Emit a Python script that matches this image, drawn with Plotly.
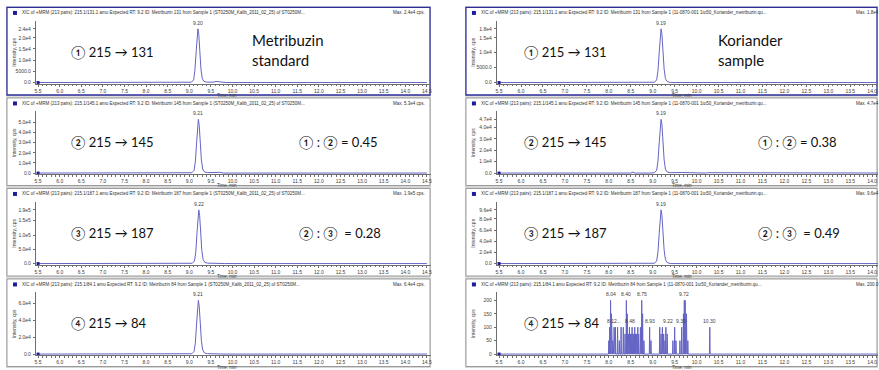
import plotly.graph_objects as go

W, H = 879, 370

# ---- XIC traces, Metribuzin standard (retention time in min, intensity in cps) ----
std_131_t = [5.50, 8.95, 9.05, 9.10, 9.13, 9.16, 9.18, 9.20, 9.22, 9.24, 9.27, 9.30, 9.34, 9.40, 9.55, 9.62, 9.70, 9.78, 9.85, 14.50]
std_131_i = [0, 0, 150, 1200, 5500, 14000, 21000, 24000, 21500, 14500, 6000, 1800, 500, 200, 150, 500, 450, 150, 0, 0]

std_145_t = [5.50, 8.96, 9.06, 9.11, 9.14, 9.17, 9.19, 9.21, 9.23, 9.25, 9.28, 9.31, 9.35, 9.42, 9.55, 9.63, 9.70, 9.80, 14.50]
std_145_i = [0, 0, 300, 2500, 11000, 30000, 46000, 53000, 47000, 31000, 13000, 4000, 1100, 400, 300, 900, 700, 0, 0]

std_187_t = [5.50, 8.97, 9.07, 9.12, 9.15, 9.18, 9.20, 9.22, 9.24, 9.26, 9.29, 9.32, 9.36, 9.43, 9.56, 9.64, 9.72, 9.82, 14.50]
std_187_i = [0, 0, 1000, 9000, 40000, 110000, 165000, 188000, 168000, 112000, 46000, 14000, 4000, 1500, 1000, 2500, 2000, 0, 0]

std_84_t = [5.50, 8.96, 9.06, 9.11, 9.14, 9.17, 9.19, 9.21, 9.23, 9.25, 9.28, 9.31, 9.35, 9.42, 9.55, 9.63, 9.70, 9.80, 14.50]
std_84_i = [0, 0, 400, 3000, 13000, 37000, 56000, 64000, 57000, 38000, 16000, 5000, 1400, 500, 400, 1000, 800, 0, 0]

# ---- XIC traces, Koriander sample ----
kor_131_t = [5.50, 8.94, 9.04, 9.09, 9.12, 9.15, 9.17, 9.19, 9.21, 9.23, 9.26, 9.29, 9.33, 9.40, 14.50]
kor_131_i = [0, 0, 100, 900, 4000, 10500, 16000, 18000, 16200, 10800, 4500, 1300, 350, 0, 0]

kor_145_t = [5.50, 8.50, 8.55, 8.60, 8.94, 9.04, 9.09, 9.12, 9.15, 9.17, 9.19, 9.21, 9.23, 9.26, 9.29, 9.33, 9.40, 9.60, 9.65, 10.20, 10.25, 14.50]
kor_145_i = [0, 0, 800, 0, 0, 300, 2400, 10500, 27500, 42000, 47000, 42500, 28000, 11500, 3300, 900, 300, 0, 500, 0, 300, 0]

kor_187_t = [5.50, 8.94, 9.04, 9.09, 9.12, 9.15, 9.17, 9.19, 9.21, 9.23, 9.26, 9.29, 9.33, 9.40, 14.50]
kor_187_i = [0, 0, 500, 4800, 21000, 56000, 85000, 96000, 86000, 57000, 24000, 7000, 1800, 0, 0]

# 215 -> 84 in the sample: isolated noise spikes (time, cps)
kor_84_spike_t = [8.00, 8.02, 8.04, 8.06, 8.09, 8.12, 8.15, 8.20, 8.24, 8.28, 8.33, 8.37, 8.40, 8.42,
                  8.45, 8.47, 8.49, 8.51, 8.53, 8.55, 8.57, 8.59, 8.61, 8.63, 8.66, 8.68, 8.72, 8.75,
                  8.77, 8.80, 8.93, 8.96, 9.16, 9.19, 9.22, 9.25, 9.28, 9.30, 9.33, 9.46, 9.50, 9.53,
                  9.62, 9.66, 9.70, 9.72, 9.74, 9.77, 9.80, 10.30]
kor_84_spike_i = [50, 100, 200, 150, 50, 100, 100, 100, 50, 100, 100, 75, 200, 150,
                  75, 100, 75, 75, 100, 75, 75, 100, 75, 75, 100, 75, 100, 200,
                  150, 50, 100, 50, 100, 75, 100, 75, 50, 100, 75, 50, 100, 50,
                  50, 100, 150, 200, 200, 150, 50, 100]

# labelled apexes: text, time, cps, anchor, horizontal nudge (px)
std_labels = [("9.20", 9.20, 24000, "center", 0), ("9.21", 9.21, 53000, "center", 0),
              ("9.22", 9.22, 188000, "center", 0), ("9.21", 9.21, 64000, "center", 0)]
kor_labels = [[("9.19", 9.19, 18000, "center", 0)], [("9.19", 9.19, 47000, "center", 0)],
              [("9.19", 9.19, 96000, "center", 0)],
              [("8.04", 8.04, 200, "center", 0), ("8.40", 8.40, 200, "center", 0),
               ("8.75", 8.75, 200, "center", 0), ("9.72", 9.72, 200, "center", 0),
               ("8.12...", 8.12, 100, "center", 0), ("8.48", 8.48, 100, "center", 0),
               ("8.93", 8.93, 100, "center", 0), ("9.22", 9.22, 100, "left", -1),
               ("9.30", 9.30, 100, "left", 8), ("10.30", 10.30, 100, "center", 0)]]

# y tick values / labels per panel
std_yticks = [([0, 5000, 10000, 15000, 20000, 24000], ["0.0", "5000.0", "1.0e4", "1.5e4", "2.0e4", "2.4e4"]),
              ([0, 10000, 20000, 30000, 40000, 50000], ["0.0", "1.0e4", "2.0e4", "3.0e4", "4.0e4", "5.0e4"]),
              ([0, 50000, 100000, 150000, 188000], ["0.0", "5.0e4", "1.0e5", "1.5e5", "1.9e5"]),
              ([0, 20000, 40000, 60000], ["0.0", "2.0e4", "4.0e4", "6.0e4"])]
kor_yticks = [([0, 5000, 10000, 15000, 18000], ["0.0", "5000.0", "1.0e4", "1.5e4", "1.8e4"]),
              ([0, 10000, 20000, 30000, 40000, 47000], ["0.0", "1.0e4", "2.0e4", "3.0e4", "4.0e4", "4.7e4"]),
              ([0, 20000, 40000, 60000, 80000, 96000], ["0.0", "2.0e4", "4.0e4", "6.0e4", "8.0e4", "9.6e4"]),
              ([0, 50, 100, 150, 200], ["0", "50", "100", "150", "200"])]

std_max = ["2.4e4", "5.3e4", "1.9e5", "6.4e4"]
kor_max = ["1.8e4", "4.7e4", "9.6e4", "200.0"]
transitions = ["131", "145", "187", "84"]
circled = ["①", "②", "③", "④"]
ratios_std = ["① : ② = 0.45", "② : ③  = 0.28"]
ratios_kor = ["① : ② = 0.38", "② : ③  = 0.49"]

# ---- page geometry (pixels) ----
ZERO_Y = [83, 174, 265, 356]         # y of the baseline in each row
PEAK_PX = 54                         # height of the tallest signal in each panel
COLS = {
    "std": dict(frame=(5, 431), plot=(35, 431), ppm=43.3, hdr_x=19, maxx=427, maxanchor="right",
                time_x=227, text_x=68, note_x=250, ratio_x=297),
    "kor": dict(frame=(465, 879), plot=(497, 879), ppm=44.0, hdr_x=479, maxx=855, maxanchor="left",
                time_x=683, text_x=522, note_x=717, ratio_x=757),
}

LINE = "#6464c4"
AX = "#6e6e6e"
SMALL = dict(family="Liberation Sans, Arial, sans-serif", size=5, color="#404040")
BIG = dict(family="Lato, 'Noto Sans', 'DejaVu Sans', sans-serif", size=13, color="#111111")


def px(x):
    return x / W


def py(y):
    return 1 - y / H


fig = go.Figure()
layout = dict(width=W, height=H, margin=dict(l=0, r=0, t=0, b=0),
              paper_bgcolor="white", plot_bgcolor="rgba(0,0,0,0)", showlegend=False)
shapes, annots = [], []

std_series = [(std_131_t, std_131_i), (std_145_t, std_145_i), (std_187_t, std_187_i), (std_84_t, std_84_i)]

# spike trace for the 84 transition in the sample: each spike rises from the baseline
kor84_t, kor84_i = [5.50, 7.98], [0, 0]
for t, v in zip(kor_84_spike_t, kor_84_spike_i):
    kor84_t += [t - 0.008, t, t + 0.008]
    kor84_i += [0, v, 0]
kor84_t += [14.50]
kor84_i += [0]
kor_series = [(kor_131_t, kor_131_i), (kor_145_t, kor_145_i), (kor_187_t, kor_187_i), (kor84_t, kor84_i)]

peak_max_std = [24000, 53000, 188000, 64000]
peak_max_kor = [18000, 47000, 96000, 200]

n = 0
for col_key, series, labels_list, yticks, maxes, pmaxes in [
        ("std", std_series, [[l] for l in std_labels], std_yticks, std_max, peak_max_std),
        ("kor", kor_series, kor_labels, kor_yticks, kor_max, peak_max_kor)]:
    col = COLS[col_key]
    fl, fr = col["frame"]
    pl, pr = col["plot"]
    x0 = 5.45
    x1 = x0 + (pr - pl) / col["ppm"]
    for r in range(4):
        n += 1
        y0 = ZERO_Y[r]
        top, bot = y0 - 62, y0 + 1
        pm = pmaxes[r]
        unit = pm / PEAK_PX
        xa = "xaxis" if n == 1 else f"xaxis{n}"
        ya = "yaxis" if n == 1 else f"yaxis{n}"
        xref = "x" if n == 1 else f"x{n}"
        yref = "y" if n == 1 else f"y{n}"

        # panel frame
        ftop, fbot = y0 - 77, y0 + 14
        shapes.append(dict(type="rect", xref="paper", yref="paper", x0=px(fl), x1=px(fr),
                           y0=py(fbot), y1=py(ftop), fillcolor="#d6d6d6", line=dict(width=0), layer="below"))
        edge = "#2e2e9a" if r == 0 else "#9a9a9a"
        shapes.append(dict(type="rect", xref="paper", yref="paper", x0=px(fl + 1), x1=px(fr - 1),
                           y0=py(fbot - 1.5), y1=py(ftop + 1.5), fillcolor="white",
                           line=dict(color=edge, width=1.3 if r == 0 else 1), layer="below"))
        # header icon
        shapes.append(dict(type="rect", xref="paper", yref="paper", x0=px(fl + 7), x1=px(fl + 11),
                           y0=py(ftop + 9), y1=py(ftop + 5), fillcolor="#1c1c9c", line=dict(width=0)))

        t_vals, i_vals = series[r]
        fig.add_trace(go.Scatter(x=t_vals, y=i_vals, mode="lines", xaxis=xref, yaxis=yref,
                                 line=dict(color=LINE, width=1), hoverinfo="skip"))
        fig.add_trace(go.Scatter(x=[t_vals[0]], y=[i_vals[0]], mode="markers", xaxis=xref, yaxis=yref,
                                 marker=dict(symbol="square", size=3, color="#1c1c9c"), hoverinfo="skip",
                                 cliponaxis=False))

        layout[xa] = dict(domain=[px(pl), px(pr)], range=[x0, x1], anchor=yref,
                          tickmode="linear", tick0=5.5, dtick=0.5, tickformat=".1f",
                          ticks="outside", ticklen=2, tickcolor=AX, tickfont=SMALL,
                          ticklabelstandoff=0,
                          minor=dict(dtick=0.1, ticklen=1.5, tickcolor=AX, ticks="outside"),
                          showline=True, linecolor=AX, linewidth=1, showgrid=False, zeroline=False,
                          fixedrange=True)
        layout[ya] = dict(domain=[py(bot), py(top)], range=[-unit, 62 * unit], anchor=xref,
                          tickmode="array", tickvals=yticks[r][0], ticktext=yticks[r][1],
                          ticks="outside", ticklen=2, tickcolor=AX, tickfont=SMALL,
                          ticklabelstandoff=1,
                          showline=True, linecolor=AX, linewidth=1, showgrid=False, zeroline=False,
                          fixedrange=True)

        # apex labels
        for txt, t, v, anc, nudge in labels_list[r]:
            annots.append(dict(x=t, y=v, xref=xref, yref=yref, text=txt, showarrow=False,
                               xanchor=anc, yanchor="bottom", yshift=1, xshift=nudge, font=SMALL))

        # header line and max intensity
        if col_key == "std":
            hdr = (f"XIC of +MRM (213 pairs): 215.1/{transitions[r]}.1 amu Expected RT: 9.2 ID: Metribuzin "
                   f"{transitions[r]} from Sample 1 (ST0250M_Kalib_2011_02_25) of ST0250M...")
        else:
            hdr = (f"XIC of +MRM (213 pairs): 215.1/{transitions[r]}.1 amu Expected RT: 9.2 ID: Metribuzin "
                   f"{transitions[r]} from Sample 1 (11-0870-001 1to50_Koriander_metribuzin.qu...")
        annots.append(dict(x=px(col["hdr_x"]), y=py(ftop + 7), xref="paper", yref="paper", text=hdr,
                           showarrow=False, xanchor="left", yanchor="middle",
                           font=dict(family=SMALL["family"], size=4.5, color="#303030")))
        annots.append(dict(x=px(col["maxx"]), y=py(ftop + 7), xref="paper", yref="paper",
                           text=f"Max. {maxes[r]} cps.", showarrow=False, xanchor=col["maxanchor"],
                           yanchor="middle", font=dict(family=SMALL["family"], size=4.5, color="#303030")))
        # axis titles
        annots.append(dict(x=px(fl + 8), y=py((top + y0) / 2), xref="paper", yref="paper",
                           text="Intensity, cps", textangle=-90, showarrow=False,
                           xanchor="center", yanchor="middle", font=SMALL))
        annots.append(dict(x=px(col["time_x"]), y=py(y0 + 13), xref="paper", yref="paper",
                           text="Time, min", showarrow=False, xanchor="center", yanchor="middle",
                           font=dict(SMALL, size=4.5)))
        # transition caption
        annots.append(dict(x=px(col["text_x"]), y=py(y0 - 31), xref="paper", yref="paper",
                           text=f"{circled[r]} 215 → {transitions[r]}", showarrow=False,
                           xanchor="left", yanchor="middle", font=BIG))
        if r in (1, 2):
            rt = ratios_std if col_key == "std" else ratios_kor
            annots.append(dict(x=px(col["ratio_x"]), y=py(y0 - 31), xref="paper", yref="paper",
                               text=rt[r - 1], showarrow=False, xanchor="left", yanchor="middle",
                               font=BIG))
        if r == 0:
            note = "Metribuzin<br>standard" if col_key == "std" else "Koriander<br>sample"
            annots.append(dict(x=px(col["note_x"]), y=py(y0 - 33), xref="paper", yref="paper",
                               text=note, showarrow=False, xanchor="left", yanchor="middle",
                               align="left", font=dict(BIG, size=15)))

layout["shapes"] = shapes
layout["annotations"] = annots
fig.update_layout(**layout)
fig.write_html("out.html", config={"displayModeBar": False})
